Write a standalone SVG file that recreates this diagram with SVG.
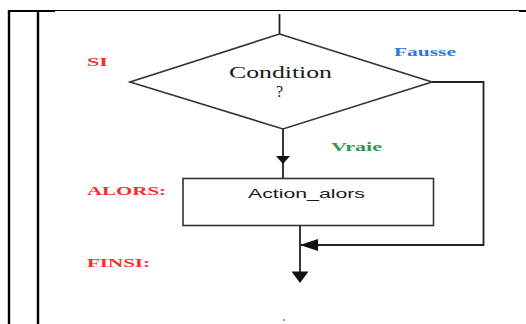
<svg xmlns="http://www.w3.org/2000/svg" width="526" height="324" viewBox="0 0 526 324">
  <style>
    .frame { stroke: #000; fill: none; }
    .shape { stroke: #333; stroke-width: 1.6; fill: #fff; }
    .wire { stroke: #222; stroke-width: 1.8; fill: none; }
    .kw { font-family: "Liberation Serif", serif; font-weight: bold; font-size: 13px; fill: #ff2a2a; }
    .lbl { font-family: "Liberation Serif", serif; font-size: 16px; fill: #1a1a1a; }
    .act { font-family: "Liberation Sans", sans-serif; font-size: 13px; fill: #1a1a1a; }
    .no { font-family: "Liberation Serif", serif; font-weight: bold; font-size: 13px; fill: #2a7ad8; }
    .yes { font-family: "Liberation Serif", serif; font-weight: bold; font-size: 13px; fill: #2c9a4a; }
  </style>
  <rect width="526" height="324" fill="#fff"/>

  <!-- table frame -->
  <g id="frame">
    <line class="frame" x1="8" y1="10.5" x2="526" y2="10.5" stroke-width="1"/>
    <line class="frame" x1="8" y1="11" x2="55" y2="11" stroke-width="2"/>
    <line class="frame" x1="519" y1="11" x2="526" y2="11" stroke-width="2"/>
    <line class="frame" x1="9" y1="10" x2="9" y2="324" stroke-width="2.4"/>
    <line class="frame" x1="38" y1="10" x2="38" y2="324" stroke-width="2.4"/>
  </g>

  <!-- keywords -->
  <g id="keywords">
    <text class="kw" x="87" y="66" textLength="21" lengthAdjust="spacingAndGlyphs">SI</text>
    <text class="kw" x="87" y="195" textLength="79" lengthAdjust="spacingAndGlyphs">ALORS:</text>
    <text class="kw" x="87" y="267" textLength="63" lengthAdjust="spacingAndGlyphs">FINSI:</text>
  </g>

  <!-- connectors -->
  <g id="connectors">
    <line class="wire" x1="279.5" y1="14" x2="279.5" y2="34"/>
    <line class="wire" x1="283" y1="129" x2="283" y2="178"/>
    <path d="M276,156 L290,156 L283,164 z" fill="#111"/>
    <polyline class="wire" points="432,82 483.5,82 483.5,245 301,245"/>
    <path d="M300,245 L318,239 L318,251 z" fill="#111"/>
    <line class="wire" x1="300" y1="226" x2="300" y2="276"/>
    <path d="M291.5,271.5 L308.5,271.5 L300,283 z" fill="#111"/>
  </g>

  <!-- decision -->
  <g id="condition">
    <polygon class="shape" points="279.5,34 432,82 283,129 130,82"/>
    <text class="lbl" x="229" y="78" textLength="103" lengthAdjust="spacingAndGlyphs">Condition</text>
    <text class="lbl" x="276" y="97">?</text>
  </g>

  <g id="label-false">
    <text class="no" x="394" y="56" textLength="62" lengthAdjust="spacingAndGlyphs">Fausse</text>
  </g>
  <g id="label-true">
    <text class="yes" x="331" y="150.5" textLength="51" lengthAdjust="spacingAndGlyphs">Vraie</text>
  </g>

  <!-- action box -->
  <g id="action">
    <rect class="shape" x="183" y="178.5" width="250.5" height="47"/>
    <text class="act" x="248" y="198" textLength="117" lengthAdjust="spacingAndGlyphs">Action_alors</text>
  </g>

  <circle cx="284" cy="320" r="1" fill="#777"/>
</svg>
